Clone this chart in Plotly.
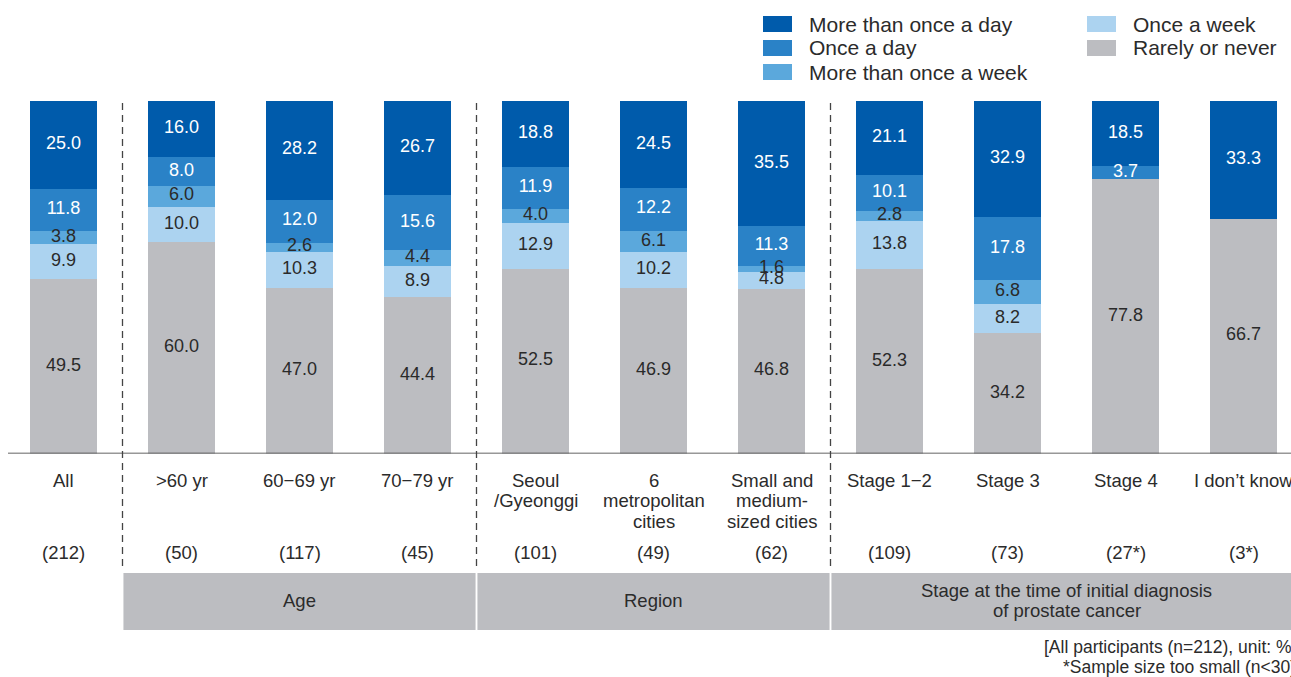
import plotly.graph_objects as go

# ---- data -------------------------------------------------------------
categories = ["All", ">60 yr", "60−69 yr", "70−79 yr",
              "Seoul\n/Gyeonggi", "6\nmetropolitan\ncities", "Small and\nmedium-\nsized cities",
              "Stage 1−2", "Stage 3", "Stage 4", "I don’t know"]
sample_sizes = ["(212)", "(50)", "(117)", "(45)", "(101)", "(49)", "(62)",
                "(109)", "(73)", "(27*)", "(3*)"]

rarely_or_never = [49.5, 60.0, 47.0, 44.4, 52.5, 46.9, 46.8, 52.3, 34.2, 77.8, 66.7]
once_a_week = [9.9, 10.0, 10.3, 8.9, 12.9, 10.2, 4.8, 13.8, 8.2, 0, 0]
more_than_once_a_week = [3.8, 6.0, 2.6, 4.4, 4.0, 6.1, 1.6, 2.8, 6.8, 0, 0]
once_a_day = [11.8, 8.0, 12.0, 15.6, 11.9, 12.2, 11.3, 10.1, 17.8, 3.7, 0]
more_than_once_a_day = [25.0, 16.0, 28.2, 26.7, 18.8, 24.5, 35.5, 21.1, 32.9, 18.5, 33.3]

group_labels = ["Age", "Region", "Stage at the time of initial diagnosis\nof prostate cancer"]
group_spans = [(1, 3), (4, 6), (7, 10)]   # first and last category index of each group

notes = ["[All participants (n=212), unit: %]", "*Sample size too small (n<30)"]

# stacked from bottom to top
series = [
    ("Rarely or never", rarely_or_never, "#bcbdc1", "#2a2a2a"),
    ("Once a week", once_a_week, "#acd3f0", "#2a2a2a"),
    ("More than once a week", more_than_once_a_week, "#5ba8dc", "#2a2a2a"),
    ("Once a day", once_a_day, "#2a82c7", "#ffffff"),
    ("More than once a day", more_than_once_a_day, "#005bab", "#ffffff"),
]

# ---- geometry helpers -------------------------------------------------
W, H = 1291, 677
FONT = "Liberation Sans, Arial, Helvetica, sans-serif"
TEXT = "#2b2b2b"


def px_x(x):
    return x / W


def px_y(y):
    return 1 - y / H


xs = list(range(len(categories)))
fig = go.Figure()

# stacked bars
for name, vals, color, _ in series:
    fig.add_trace(go.Bar(
        x=xs, y=vals, name=name, width=0.568,
        marker=dict(color=color, line=dict(width=0)),
        showlegend=False, hoverinfo="skip",
    ))

# value labels at the centre of every segment
base = [0.0] * len(xs)
for name, vals, color, tcolor in series:
    centers = [b + v / 2 for b, v in zip(base, vals)]
    labels = [f"{v:.1f}" if v > 0 else "" for v in vals]
    fig.add_trace(go.Scatter(
        x=xs, y=centers, text=labels, mode="text",
        textposition="middle center",
        textfont=dict(family=FONT, size=18, color=tcolor),
        showlegend=False, hoverinfo="skip", cliponaxis=False,
    ))
    base = [b + v for b, v in zip(base, vals)]

shapes = []
annotations = []

# baseline
shapes.append(dict(type="line", xref="paper", yref="y",
                   x0=px_x(8), x1=1, y0=0, y1=0,
                   line=dict(color="#333333", width=1.3)))

# dashed group separators and grey group bands
for (first, last), label in zip(group_spans, group_labels):
    left = first - 0.5
    right = last + 0.5
    shapes.append(dict(type="line", xref="x", yref="paper",
                       x0=left, x1=left, y0=px_y(566), y1=px_y(100),
                       line=dict(color="#444444", width=1.3, dash="7px,5px")))
    shapes.append(dict(type="rect", xref="x", yref="paper",
                       x0=left + 0.008, x1=right - 0.008,
                       y0=px_y(630), y1=px_y(573),
                       fillcolor="#bcbdc1", line=dict(width=0), layer="below"))
    lines = label.split("\n")
    mid = (left + right) / 2
    if last == len(categories) - 1:
        mid = (left + last + 0.5) / 2
    y0 = 600 - (len(lines) - 1) * 10
    for k, line in enumerate(lines):
        annotations.append(dict(xref="x", yref="paper", x=mid, y=px_y(y0 + 20 * k),
                                text=line, showarrow=False, xanchor="center", yanchor="middle",
                                font=dict(family=FONT, size=18.5, color=TEXT)))

# category labels and sample sizes
for i, (cat, n) in enumerate(zip(categories, sample_sizes)):
    for k, line in enumerate(cat.split("\n")):
        annotations.append(dict(xref="x", yref="paper", x=i, y=px_y(480 + 20.5 * k),
                                text=line, showarrow=False, xanchor="center", yanchor="middle",
                                font=dict(family=FONT, size=18.5, color=TEXT)))
    annotations.append(dict(xref="x", yref="paper", x=i, y=px_y(552),
                            text=n, showarrow=False, xanchor="center", yanchor="middle",
                            font=dict(family=FONT, size=18.5, color=TEXT)))

# legend drawn as swatches plus labels in two columns
legend_order = [series[4], series[3], series[2], series[1], series[0]]
legend_slots = [(763, 24), (763, 48), (763, 72), (1087, 24), (1087, 48)]
for (name, _, color, _), (lx, ly) in zip(legend_order, legend_slots):
    shapes.append(dict(type="rect", xref="paper", yref="paper",
                       x0=px_x(lx), x1=px_x(lx + 29), y0=px_y(ly + 8), y1=px_y(ly - 8),
                       fillcolor=color, line=dict(width=0)))
    annotations.append(dict(xref="paper", yref="paper", x=px_x(lx + 44), y=px_y(ly),
                            text=name, showarrow=False, xanchor="left", yanchor="middle",
                            font=dict(family=FONT, size=21, color=TEXT)))

# footnotes, right aligned
for k, note in enumerate(notes):
    annotations.append(dict(xref="paper", yref="paper", x=px_x(1298), y=px_y(647 + 20 * k),
                            text=note, showarrow=False, xanchor="right", yanchor="middle",
                            font=dict(family=FONT, size=17.5, color=TEXT)))

x_left = -63.5 / 118
x_right = (W - 63.5) / 118

fig.update_layout(
    width=W, height=H,
    margin=dict(l=0, r=0, t=0, b=0),
    barmode="stack", bargap=0,
    paper_bgcolor="white", plot_bgcolor="white",
    xaxis=dict(range=[x_left, x_right], domain=[0, 1], showticklabels=False,
               showgrid=False, zeroline=False, showline=False, ticks=""),
    yaxis=dict(range=[0, 100], domain=[px_y(453.5), px_y(100.5)], showticklabels=False,
               showgrid=False, zeroline=False, showline=False, ticks=""),
    shapes=shapes,
    annotations=annotations,
    font=dict(family=FONT, color=TEXT),
)

fig.write_html("out.html")
